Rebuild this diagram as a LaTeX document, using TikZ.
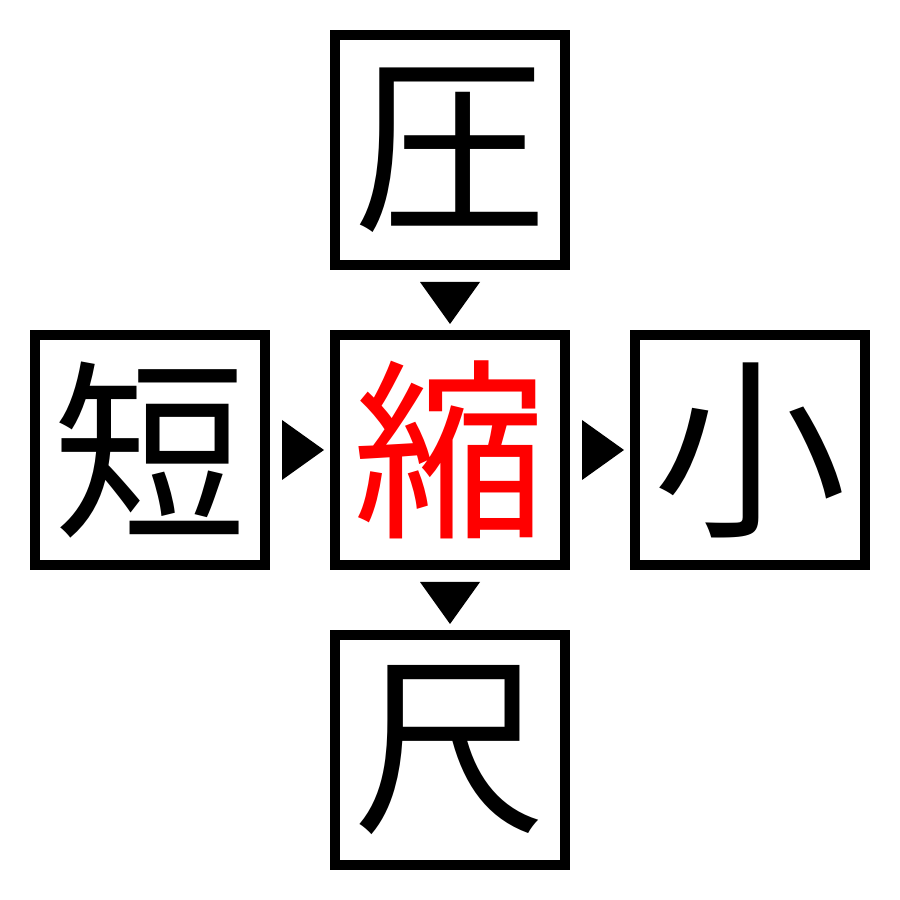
\documentclass[tikz,border=0pt]{standalone}
\usepackage{fontspec}
\newfontfamily\cjk{Noto Sans CJK JP}
\usetikzlibrary{calc}
\tikzset{
	kanji/.style={draw,line width=0.1cm,minimum size=2.3cm,inner sep=0pt,font=\cjk\fontsize{55}{55}\selectfont},
}
\begin{document}
\begin{tikzpicture}
	\useasboundingbox (0,0) rectangle (9,9);
	% the boxes
	\node[kanji] (atsu) at (4.5,7.5) {圧};
	\node[kanji] (tan) at (1.5,4.5) {短};
	\node[kanji,text=red] (shuku) at (4.5,4.5) {縮};
	\node[kanji] (sho) at (7.5,4.5) {小};
	\node[kanji] (shaku) at (4.5,1.5) {尺};
	% the down marks
	\fill ($(atsu.south)+(-0.3,-0.12)$) -- ($(atsu.south)+(0.3,-0.12)$) -- ($(shuku.north)+(0,0.06)$) -- cycle;
	\fill ($(shuku.south)+(-0.3,-0.12)$) -- ($(shuku.south)+(0.3,-0.12)$) -- ($(shaku.north)+(0,0.06)$) -- cycle;
	% the right marks
	\fill ($(tan.east)+(0.12,0.3)$) -- ($(tan.east)+(0.12,-0.3)$) -- ($(shuku.west)+(-0.06,0)$) -- cycle;
	\fill ($(shuku.east)+(0.12,0.3)$) -- ($(shuku.east)+(0.12,-0.3)$) -- ($(sho.west)+(-0.06,0)$) -- cycle;
\end{tikzpicture}
\end{document}
